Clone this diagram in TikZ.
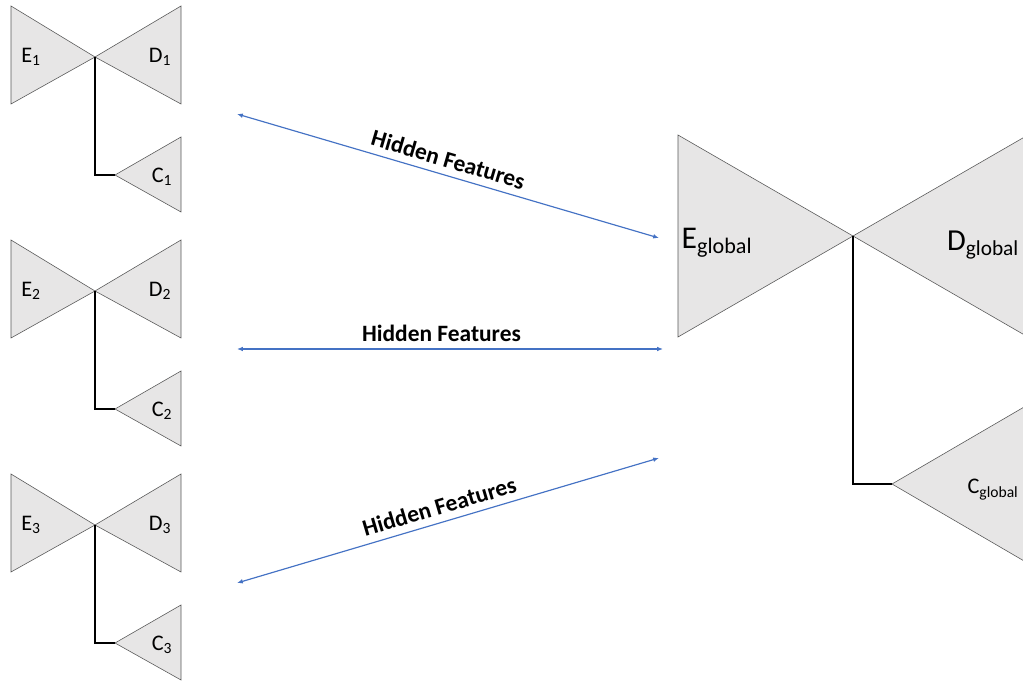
\documentclass[tikz,border=0pt]{standalone}
\usepackage{fontspec}
\setmainfont{Carlito}
\usetikzlibrary{arrows.meta}

\definecolor{bowgray}{RGB}{231,230,230}
\definecolor{featblue}{RGB}{68,114,196}

\tikzset{
    tri/.style={draw=black!65, fill=bowgray, line width=0.5pt},
    link/.style={draw=black, line width=1.3pt},
    feat/.style={draw=featblue, line width=1pt, {Latex[length=5pt,width=4pt]}-{Latex[length=5pt,width=4pt]}},
    featlbl/.style={sloped, above, inner sep=6pt, font=\fontsize{20}{22}\selectfont\bfseries},
    small/.style={font=\fontsize{19}{21}\selectfont},
}

\begin{document}
\begin{tikzpicture}[x=0.03cm, y=-0.03cm]
    \useasboundingbox (0,0) rectangle (1023,681);
    \clip (0,0) rectangle (1023,681);

    % Draw local models
    \foreach \i/\y in {1/0, 2/234, 3/468} {
        \coordinate (hub\i) at (95,57+\y);
        \coordinate (ctip\i) at (115,175+\y);
        \filldraw[tri] (11,6+\y) -- (hub\i) -- (11,104+\y) -- cycle;
        \filldraw[tri] (181,6+\y) -- (hub\i) -- (181,104+\y) -- cycle;
        \filldraw[tri] (181,137+\y) -- (ctip\i) -- (181,212+\y) -- cycle;
        \draw[link] (hub\i) |- (ctip\i);
        \node[small] (enc\i) at (31,57+\y) {E\textsubscript{\i}};
        \node[small] (dec\i) at (160,57+\y) {D\textsubscript{\i}};
        \node[small] (cls\i) at (162,177+\y) {C\textsubscript{\i}};
    }

    % Draw global model
    \coordinate (hubg) at (853,236);
    \coordinate (ctipg) at (892,484);
    \filldraw[tri] (678,135) -- (hubg) -- (678,337) -- cycle;
    \filldraw[tri] (1028,135) -- (hubg) -- (1028,337) -- cycle;
    \filldraw[tri] (1067,382) -- (ctipg) -- (1067,586) -- cycle;
    \draw[link] (hubg) |- (ctipg);
    \node[font=\fontsize{27}{30}\selectfont] (encg) at (717,243) {E\textsubscript{global}};
    \node[font=\fontsize{26}{29}\selectfont] (decg) at (983,245) {D\textsubscript{global}};
    \node[font=\fontsize{19}{21}\selectfont] (clsg) at (993,490) {C\textsubscript{global}};

    % Draw connections
    \coordinate (l1) at (237,114);
    \coordinate (r1) at (659,238);
    \coordinate (l2) at (237,349);
    \coordinate (r2) at (663,349);
    \coordinate (l3) at (237,583);
    \coordinate (r3) at (659,458);
    \draw[feat] (l1) -- (r1) node[pos=0.49, featlbl] {Hidden Features};
    \draw[feat] (l2) -- (r2) node[pos=0.48, featlbl] {Hidden Features};
    \draw[feat] (l3) -- (r3) node[pos=0.49, featlbl] {Hidden Features};
\end{tikzpicture}
\end{document}
